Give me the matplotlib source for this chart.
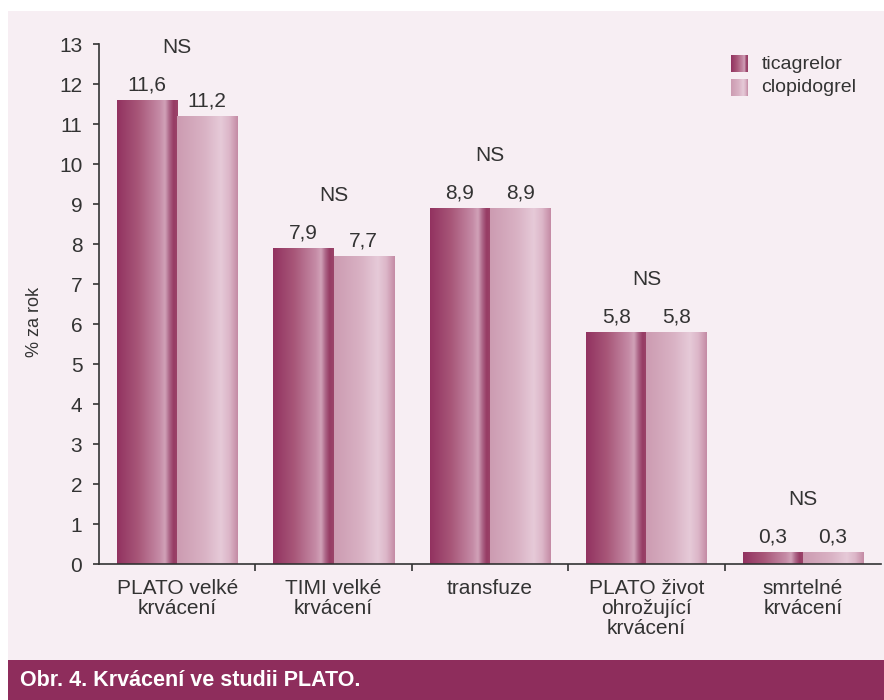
import numpy as np
import matplotlib.pyplot as plt
from matplotlib.colors import LinearSegmentedColormap
from matplotlib.patches import Rectangle

# data
categories = ['PLATO velké\nkrvácení', 'TIMI velké\nkrvácení', 'transfuze',
              'PLATO život\nohrožující\nkrvácení', 'smrtelné\nkrvácení']
ticagrelor = [11.6, 7.9, 8.9, 5.8, 0.3]
clopidogrel = [11.2, 7.7, 8.9, 5.8, 0.3]
labels_tica = ['11,6', '7,9', '8,9', '5,8', '0,3']
labels_clop = ['11,2', '7,7', '8,9', '5,8', '0,3']
significance = ['NS', 'NS', 'NS', 'NS', 'NS']
series_names = ['ticagrelor', 'clopidogrel']
title = 'Obr. 4. Krvácení ve studii PLATO.'

plt.rcParams['font.family'] = ['Liberation Sans', 'DejaVu Sans']
text_col = '#333333'
bg_col = '#f7eef3'
banner_col = '#8e2d5c'

cmap_tica = LinearSegmentedColormap.from_list('tica', [
    (0.0, '#923260'), (0.35, '#a85779'), (0.7, '#c58ba6'), (0.79, '#d1a2b8'),
    (0.86, '#ad6688'), (0.93, '#963b64'), (1.0, '#9b4569')])
cmap_clop = LinearSegmentedColormap.from_list('clop', [
    (0.0, '#cc9bb1'), (0.45, '#d9b2c4'), (0.72, '#e6cad8'), (0.86, '#dcb6c8'),
    (1.0, '#c48aa4')])
grad = np.linspace(0, 1, 256).reshape(1, -1)

fig = plt.figure(figsize=(8.84, 7.0), dpi=100)
fig.patch.set_facecolor('white')
fig.add_artist(Rectangle((8 / 884, 40 / 700), 1, 649 / 700, transform=fig.transFigure,
                         facecolor=bg_col, edgecolor='none', zorder=0))
fig.add_artist(Rectangle((8 / 884, 0), 1, 40 / 700, transform=fig.transFigure,
                         facecolor=banner_col, edgecolor='none', zorder=0))
fig.text(20 / 884, 19 / 700, title, color='white', fontsize=15.5, fontweight='bold',
         va='center', ha='left')

ax = fig.add_axes([99 / 884, 136 / 700, 782 / 884, 520 / 700])
ax.set_facecolor('none')

x = np.arange(len(categories))
w = 0.385
bars_t = ax.bar(x - w / 2, ticagrelor, w, color='none', zorder=2)
bars_c = ax.bar(x + w / 2, clopidogrel, w, color='none', zorder=2)

for bars, cmap in [(bars_t, cmap_tica), (bars_c, cmap_clop)]:
    for b in bars:
        x0 = b.get_x()
        ax.imshow(grad, extent=[x0, x0 + b.get_width(), 0, b.get_height()],
                  aspect='auto', cmap=cmap, interpolation='bicubic', zorder=2)

for i in range(len(categories)):
    ax.annotate(labels_tica[i], (x[i] - w / 2, ticagrelor[i]), xytext=(0, 4),
                textcoords='offset points', ha='center', va='bottom',
                fontsize=15, color=text_col)
    ax.annotate(labels_clop[i], (x[i] + w / 2, clopidogrel[i]), xytext=(0, 4),
                textcoords='offset points', ha='center', va='bottom',
                fontsize=15, color=text_col)
    top = max(ticagrelor[i], clopidogrel[i])
    ax.annotate(significance[i], (x[i], top), xytext=(0, 31),
                textcoords='offset points', ha='center', va='bottom',
                fontsize=15, color=text_col)

# manual legend with gradient squares
leg_y = [0.946, 0.900]
for yy, cmap, name in zip(leg_y, [cmap_tica, cmap_clop], series_names):
    ax.imshow(grad, extent=[0.8085, 0.8302, yy, yy + 0.031], transform=ax.transAxes,
              aspect='auto', cmap=cmap, zorder=3, clip_on=False)
    ax.text(0.847, yy + 0.0155, name, transform=ax.transAxes, fontsize=14,
            color=text_col, va='center', ha='left')

ax.set_xlim(-0.5, len(categories) - 0.5)
ax.set_ylim(0, 13)
ax.set_yticks(range(0, 14))
ax.set_xticks(np.arange(0.5, len(categories) - 0.5, 1.0))
ax.set_xticklabels([])
ax.set_xticks(x, minor=True)
ax.set_xticklabels(categories, minor=True, fontsize=15, color=text_col, linespacing=1.05)
ax.tick_params(axis='x', which='minor', length=0, pad=11)
ax.tick_params(axis='x', which='major', length=5, width=1.2, color=text_col)
ax.tick_params(axis='y', length=4, width=1.2, color=text_col, labelsize=15,
               labelcolor=text_col, pad=8)
ax.set_ylabel('% za rok', fontsize=13, color=text_col)
ax.yaxis.set_label_coords(-0.072, 0.465)

for s in ['top', 'right']:
    ax.spines[s].set_visible(False)
for s in ['left', 'bottom']:
    ax.spines[s].set_color(text_col)
    ax.spines[s].set_linewidth(1.2)

fig.savefig('out.png', dpi=100, facecolor=fig.get_facecolor())
